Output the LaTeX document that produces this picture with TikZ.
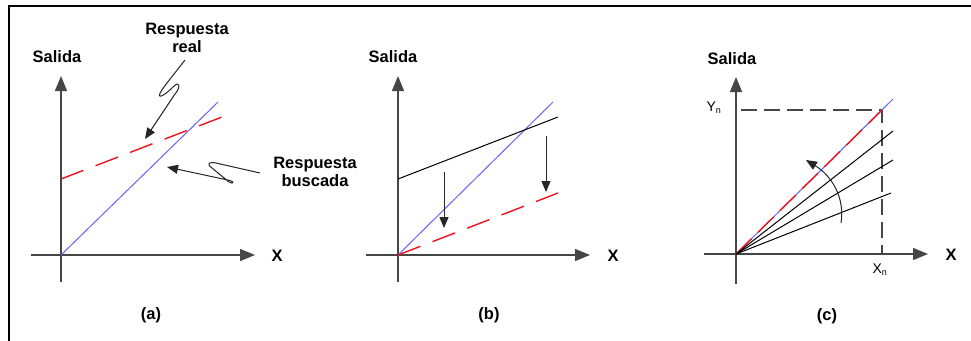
\documentclass[tikz,border=0pt]{standalone}
\usepackage{fontspec}
\setmainfont{Liberation Sans}
\usetikzlibrary{arrows.meta}
\definecolor{axisgray}{RGB}{70,70,70}
\definecolor{lineblue}{RGB}{100,100,255}
\definecolor{linered}{RGB}{240,20,30}
\tikzset{
  axis/.style={draw=axisgray, line width=1.4pt, -{Triangle[length=15pt,width=12pt]}},
  axisplain/.style={draw=axisgray, line width=1.4pt},
  lbl/.style={font=\fontsize{16.5}{18.5}\selectfont\bfseries, inner sep=0pt, align=center},
  sublbl/.style={font=\fontsize{14}{16}\selectfont, inner sep=0pt},
  blueline/.style={draw=lineblue, line width=1pt},
  reddash/.style={draw=linered, line width=1.4pt, dash pattern=on 24pt off 13pt},
  blackline/.style={draw=black, line width=1pt},
  ptr/.style={draw=black!85, line width=1pt, line join=round, -{Triangle[length=11pt,width=9pt]}},
  graydash/.style={draw=axisgray, line width=1.3pt, dash pattern=on 16pt off 7pt},
}
\begin{document}
\begin{tikzpicture}[x=1pt,y=-1pt]
\useasboundingbox (0,0) rectangle (971,340);
\fill[white] (0,0) rectangle (971,340);
% frame
\draw[line width=1.6pt] (9,341) -- (9,6) -- (972,6);

% ---------------- panel (a)
\coordinate (aO) at (61,255);
\coordinate (aYb) at (61,282);
\coordinate (aYt) at (61,76);
\coordinate (aXl) at (31,255);
\coordinate (aXr) at (255,255);
\draw[axisplain] (aYb) -- (aO);
\draw[axis] (aO) -- (aYt);
\draw[axisplain] (aXl) -- (aO);
\draw[axis] (aO) -- (aXr);
\node[lbl] (aSal) at (57,57) {Salida};
\node[lbl] (aX) at (277,256) {X};
\node[lbl] (aCap) at (151,315) {(a)};
\coordinate (aB2) at (218,102);
\draw[blueline] (aO) -- (aB2);
\coordinate (aR1) at (61,179);
\coordinate (aR2) at (222,117);
\draw[reddash] (aR1) -- (aR2);
\node[lbl] (aReal) at (187,38) {Respuesta\\real};
\node[lbl] (aBus) at (315,172) {Respuesta\\buscada};
\coordinate (s1) at (185,60);
\coordinate (t1) at (145,139);
\draw[ptr] (s1) -- (167,83) .. controls (152,102) and (162,98) .. (173,87)
   .. controls (181,79) and (180,89) .. (175,94) -- (t1);
\coordinate (s2) at (260,173);
\coordinate (t2) at (167,167);
\draw[ptr] (s2) -- (216,163) .. controls (209,161.5) and (206,164) .. (212,168)
   -- (229,182) .. controls (233,184.5) and (235,182) .. (230,180.5) -- (t2);

% ---------------- panel (b)
\coordinate (bO) at (398,255);
\coordinate (bYb) at (398,282);
\coordinate (bYt) at (398,76);
\coordinate (bXl) at (366,255);
\coordinate (bXr) at (590,255);
\draw[axisplain] (bYb) -- (bO);
\draw[axis] (bO) -- (bYt);
\draw[axisplain] (bXl) -- (bO);
\draw[axis] (bO) -- (bXr);
\node[lbl] (bSal) at (393,57) {Salida};
\node[lbl] (bX) at (613,256) {X};
\node[lbl] (bCap) at (489,315) {(b)};
\coordinate (bB2) at (553,102);
\draw[blueline] (bO) -- (bB2);
\coordinate (bK1) at (398,179);
\coordinate (bK2) at (558,117);
\draw[blackline] (bK1) -- (bK2);
\coordinate (bR2) at (558,193);
\draw[reddash] (bO) -- (bR2);
\coordinate (bA1s) at (444,172);
\coordinate (bA1e) at (444,228);
\draw[ptr] (bA1s) -- (bA1e);
\coordinate (bA2s) at (546,136);
\coordinate (bA2e) at (546,192);
\draw[ptr] (bA2s) -- (bA2e);

% ---------------- panel (c)
\coordinate (cO) at (736,254);
\coordinate (cYb) at (736,284);
\coordinate (cYt) at (736,77);
\coordinate (cXl) at (704,254);
\coordinate (cXr) at (928,254);
\draw[axisplain] (cYb) -- (cO);
\draw[axis] (cO) -- (cYt);
\draw[axisplain] (cXl) -- (cO);
\draw[axis] (cO) -- (cXr);
\node[lbl] (cSal) at (732,59) {Salida};
\node[lbl] (cX) at (951,255) {X};
\node[lbl] (cCap) at (827,316) {(c)};
\node[sublbl] (cYn) at (714,108) {Y\textsubscript{\fontsize{9}{10}\selectfont n}};
\node[sublbl] (cXn) at (880,270) {X\textsubscript{\fontsize{9}{10}\selectfont n}};
\coordinate (cP) at (882,110);
\coordinate (cPy) at (741,110);
\coordinate (cPx) at (882,254);
\draw[graydash] (cPy) -- (cP) -- (cPx);
\coordinate (cB2) at (893,99);
\draw[blueline] (cO) -- (cB2);
\draw[draw=linered, line width=1.4pt, dash pattern=on 22pt off 9pt] (cO) -- (cP);
\coordinate (cL1) at (893,131);
\coordinate (cL2) at (893,160);
\coordinate (cL3) at (891,193);
\draw[blackline] (cO) -- (cL1);
\draw[blackline] (cO) -- (cL2);
\draw[blackline] (cO) -- (cL3);
\coordinate (cAs) at (841,223);
\coordinate (cAe) at (806,160);
\draw[ptr] (cAs) .. controls (845,198) and (832,176) .. (cAe);
\end{tikzpicture}
\end{document}
